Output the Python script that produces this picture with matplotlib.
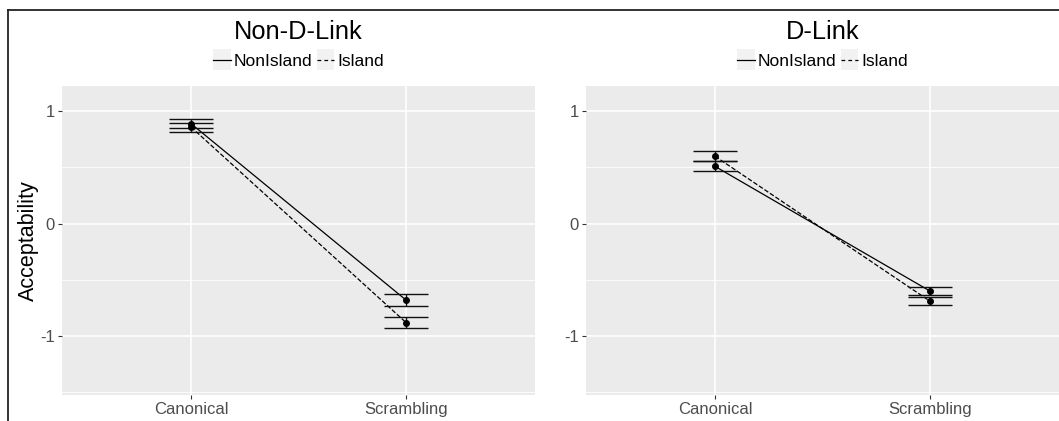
import numpy as np
import matplotlib.pyplot as plt
from matplotlib.lines import Line2D
from matplotlib.patches import Rectangle
from matplotlib.legend_handler import HandlerLine2D

# condiciones y medias por panel
posiciones = ["Canonical", "Scrambling"]
paneles = ["Non-D-Link", "D-Link"]

media_nonisland = {"Non-D-Link": [0.89, -0.68], "D-Link": [0.51, -0.60]}
media_island = {"Non-D-Link": [0.86, -0.88], "D-Link": [0.60, -0.69]}
se_nonisland = {"Non-D-Link": [0.04, 0.05], "D-Link": [0.045, 0.037]}
se_island = {"Non-D-Link": [0.04, 0.048], "D-Link": [0.045, 0.035]}

W, H = 1059, 421
fig = plt.figure(figsize=(W / 100, H / 100), dpi=100)
plt.rcParams['font.family'] = ['Liberation Sans', 'DejaVu Sans']

fondo = '#EBEBEB'
gris_txt = '#4D4D4D'


class ClaveConFondo(HandlerLine2D):
    # clave de leyenda con el recuadro gris de ggplot
    def create_artists(self, legend, orig_handle, xdescent, ydescent,
                       width, height, fontsize, trans):
        caja = Rectangle((-xdescent, -ydescent - 3), width, height + 6,
                         facecolor='#F2F2F2', edgecolor='none', transform=trans)
        lineas = super().create_artists(legend, orig_handle, xdescent, ydescent,
                                        width, height, fontsize, trans)
        return [caja] + lineas


def agregar_panel(izq, titulo, mostrar_ylabel):
    ax = fig.add_axes([izq / W, (H - 395) / H, 473 / W, (395 - 86) / H])
    ax.set_facecolor(fondo)
    for s in ax.spines.values():
        s.set_visible(False)
    x = np.arange(1, len(posiciones) + 1)
    # rejilla tipo ggplot
    for y in [-1.5, -0.5, 0.5]:
        ax.axhline(y, color='white', lw=0.6, zorder=0)
    for y in [-1, 0, 1]:
        ax.axhline(y, color='white', lw=1.2, zorder=0)
    for xi in x:
        ax.axvline(xi, color='white', lw=1.2, zorder=0)

    for medias, ses, estilo in [(media_nonisland[titulo], se_nonisland[titulo], '-'),
                                 (media_island[titulo], se_island[titulo], '--')]:
        ax.plot(x, medias, color='black', lw=0.9, ls=estilo, zorder=2)
        ax.errorbar(x, medias, yerr=ses, fmt='o', color='black', ms=4,
                    ecolor='#111111', elinewidth=1.0, capsize=16, capthick=1.0, zorder=3)

    ax.set_xlim(1 - 0.6, 2 + 0.6)
    ax.set_ylim(-1.525, 1.225)
    ax.set_xticks(x)
    ax.set_xticklabels(posiciones, fontsize=12, color=gris_txt)
    ax.set_yticks([-1, 0, 1])
    ax.set_yticklabels(['-1', '0', '1'], fontsize=12, color=gris_txt)
    ax.tick_params(length=3, width=0.8, color='#333333', pad=2)
    if mostrar_ylabel:
        ax.set_ylabel('Acceptability', fontsize=15.5, labelpad=1)
    ax.set_title(titulo, fontsize=18.3, pad=34)

    handles = [Line2D([], [], color='black', lw=0.9, ls='-'),
               Line2D([], [], color='black', lw=0.9, ls=(0, (3, 2.5)))]
    ax.legend(handles, ['NonIsland', 'Island'], ncol=2, loc='lower center',
              bbox_to_anchor=(0.5, 1.0), frameon=False, fontsize=12.5,
              handlelength=1.0, handletextpad=0.15, columnspacing=0.3,
              borderaxespad=0.6, handler_map={Line2D: ClaveConFondo()})
    return ax

agregar_panel(62, "Non-D-Link", True)
agregar_panel(586, "D-Link", False)

# marco exterior
fig.add_artist(Line2D([8 / W, 1], [1 - 10 / H, 1 - 10 / H], color='#222222', lw=1.3))
fig.add_artist(Line2D([8 / W, 8 / W], [0, 1 - 10 / H], color='#222222', lw=1.3))

fig.savefig('out.png', dpi=100)
